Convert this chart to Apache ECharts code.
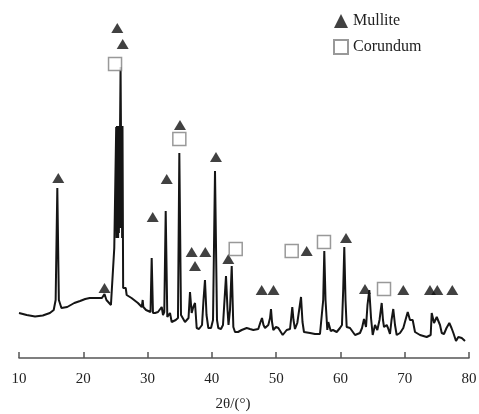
<!DOCTYPE html>
<html>
<head>
<meta charset="utf-8">
<script src="https://cdn.jsdelivr.net/npm/echarts@6/dist/echarts.min.js"></script>
<style>
    html, body { margin: 0; padding: 0; background: #fff; }
    #xrd { width: 479px; height: 414px; }
</style>
</head>
<body>
<div id="xrd"></div>
<script>
// diffraction pattern, 2theta in degrees and intensity in arbitrary units
var twoTheta = [10.0, 11.2, 12.5, 13.7, 14.8, 15.4, 15.7, 15.96, 16.2, 16.6, 17.5, 18.6, 19.5, 20.3, 21.0, 21.8,
    22.9, 23.3, 23.6, 24.3, 24.55, 24.82, 25.0, 25.12, 25.18, 25.24, 25.3, 25.36, 25.42, 25.48, 25.54, 25.6,
    25.66, 25.72, 25.8, 25.86, 25.92, 25.98, 26.04, 26.1,
    26.2, 26.6, 26.75, 27.5, 28.5, 29.1, 29.24, 29.34, 29.76, 30.07, 30.46, 30.64, 30.84, 31.16, 31.62, 31.93,
    32.2, 32.4, 32.6, 32.82, 33.07, 33.49, 33.75, 34.38, 34.73, 34.94, 35.2, 35.46, 35.82, 36.13, 36.37, 36.6,
    36.86, 37.11, 37.38, 37.64, 38.0, 38.47, 38.7, 38.93, 39.17, 39.45, 39.87, 40.18, 40.49, 40.8, 41.0, 41.42,
    41.73, 41.97, 42.2, 42.44, 42.59, 42.82, 43.09, 43.34, 43.6, 44.07, 44.64, 45.42, 45.93, 46.45, 46.71, 47.22,
    47.57, 47.8, 48.03, 48.27, 48.78, 49.05, 49.2, 49.36, 49.56, 49.98, 50.34, 51.02, 51.64, 52.16, 52.34, 52.51,
    52.7, 52.93, 53.29, 53.56, 53.87, 54.1, 54.33, 55.27, 56.04, 56.82, 57.13, 57.32, 57.49, 57.68, 57.96, 58.11,
    58.49, 58.84, 59.42, 59.93, 60.24, 60.43, 60.6, 60.79, 60.97, 61.49, 61.8, 62.27, 62.58, 63.04, 63.36, 63.67,
    63.98, 64.21, 64.49, 64.76, 65.02, 65.38, 65.74, 66.08, 66.42, 66.62, 66.78, 67.2, 67.4, 67.71, 67.95, 68.22,
    68.49, 68.75, 69.27, 69.78, 70.12, 70.47, 70.82, 71.24, 71.6, 72.38, 73.42, 74.04, 74.2, 74.56, 74.98, 75.49,
    75.76, 76.11, 76.5, 76.94, 77.28, 77.57, 77.98, 78.34, 78.87, 79.38];
var intensity = [45, 43, 41.5, 42.5, 45, 48, 58, 170, 58, 50, 51, 55, 57, 59, 60, 60,
    60, 64, 58, 53, 54, 110, 112, 231, 120, 232, 120, 232, 120, 232, 125, 232,
    130, 232, 291, 232, 130, 232, 120, 232,
    70, 70, 63, 60, 55, 51, 58, 51, 48, 47, 46, 100, 45, 45, 46, 46,
    51, 43, 46, 147, 41, 45, 36, 38, 40, 205, 43, 41, 36, 36, 40, 66,
    45, 51, 55, 30, 29, 33, 58, 78, 43, 30, 30, 38, 187, 38, 30, 29,
    33, 58, 82, 48, 33, 48, 92, 31, 26, 26, 28, 30, 29, 28, 28, 29,
    36, 40, 33, 30, 33, 40, 49, 36, 28, 31, 30, 23, 28, 29, 40, 51,
    38, 29, 35, 34, 61, 36, 26, 25, 24, 24, 25, 58, 107, 58, 28, 36,
    27, 28, 26, 30, 33, 68, 111, 58, 31, 30, 28, 23, 24, 25, 30, 39,
    31, 53, 68, 40, 23, 33, 28, 38, 55, 38, 31, 33, 30, 24, 38, 49,
    33, 23, 25, 30, 38, 46, 38, 38, 26, 23, 21, 23, 45, 35, 41, 33,
    25, 24, 30, 35, 30, 25, 17, 21, 20, 17];

// phase markers placed above the peaks
var mulliteTheta = [16.11, 23.3, 25.29, 26.13, 30.8, 32.98, 35.04, 36.86, 37.38, 38.98, 40.64, 42.56,
    47.75, 49.59, 54.75, 60.87, 63.82, 69.78, 73.93, 75.07, 77.4];
var mulliteY = [180, 70, 330, 314, 141, 179, 233, 106, 92, 106, 201, 99,
    68, 68, 107, 120, 69, 68, 68, 68, 68];
var corundumTheta = [24.94, 34.94, 43.71, 52.42, 57.44, 66.78];
var corundumY = [294, 219, 109, 107, 116, 69];

var xMin = 10, xMax = 80, xStep = 10;

function pairs(xs, ys) {
    var out = [];
    for (var i = 0; i < xs.length; i++) {
        out.push([xs[i], ys[i]]);
    }
    return out;
}

var serif = 'Liberation Serif';
var chart = echarts.init(document.getElementById('xrd'));
chart.setOption({
    animation: false,
    backgroundColor: '#fff',
    grid: {
        left: 19,
        right: 10,
        top: 0,
        bottom: 56,
        outerBoundsMode: 'none'
    },
    legend: {
        orient: 'vertical',
        left: 333,
        top: 13,
        padding: 0,
        itemWidth: 14,
        itemHeight: 14,
        itemGap: 10,
        textStyle: {
            fontFamily: serif,
            fontSize: 16,
            color: '#222'
        },
        data: ['Mullite', 'Corundum']
    },
    xAxis: {
        type: 'value',
        min: xMin,
        max: xMax,
        interval: xStep,
        name: '2θ/(°)',
        nameLocation: 'middle',
        nameGap: 39,
        nameTextStyle: {
            fontFamily: serif,
            fontSize: 15,
            color: '#222',
            padding: [0, 22, 0, 0]
        },
        axisLine: {
            lineStyle: { color: '#555', width: 1.5 }
        },
        axisTick: {
            inside: true,
            length: 6,
            lineStyle: { color: '#555', width: 1.5 }
        },
        axisLabel: {
            margin: 14,
            fontFamily: serif,
            fontSize: 15,
            color: '#222'
        },
        splitLine: { show: false }
    },
    yAxis: {
        type: 'value',
        min: 0,
        max: 358,
        show: false
    },
    series: [
        {
            name: 'pattern',
            type: 'line',
            data: pairs(twoTheta, intensity),
            showSymbol: false,
            symbol: 'none',
            lineStyle: { color: '#151515', width: 2 },
            z: 2
        },
        {
            name: 'Mullite',
            type: 'scatter',
            data: pairs(mulliteTheta, mulliteY),
            symbol: 'triangle',
            symbolSize: [12, 10],
            itemStyle: { color: '#111' },
            z: 3
        },
        {
            name: 'Corundum',
            type: 'scatter',
            data: pairs(corundumTheta, corundumY),
            symbol: 'rect',
            symbolSize: 13,
            itemStyle: { color: '#fff', borderColor: '#808080', borderWidth: 1.5 },
            z: 3
        }
    ]
});
</script>
</body>
</html>
